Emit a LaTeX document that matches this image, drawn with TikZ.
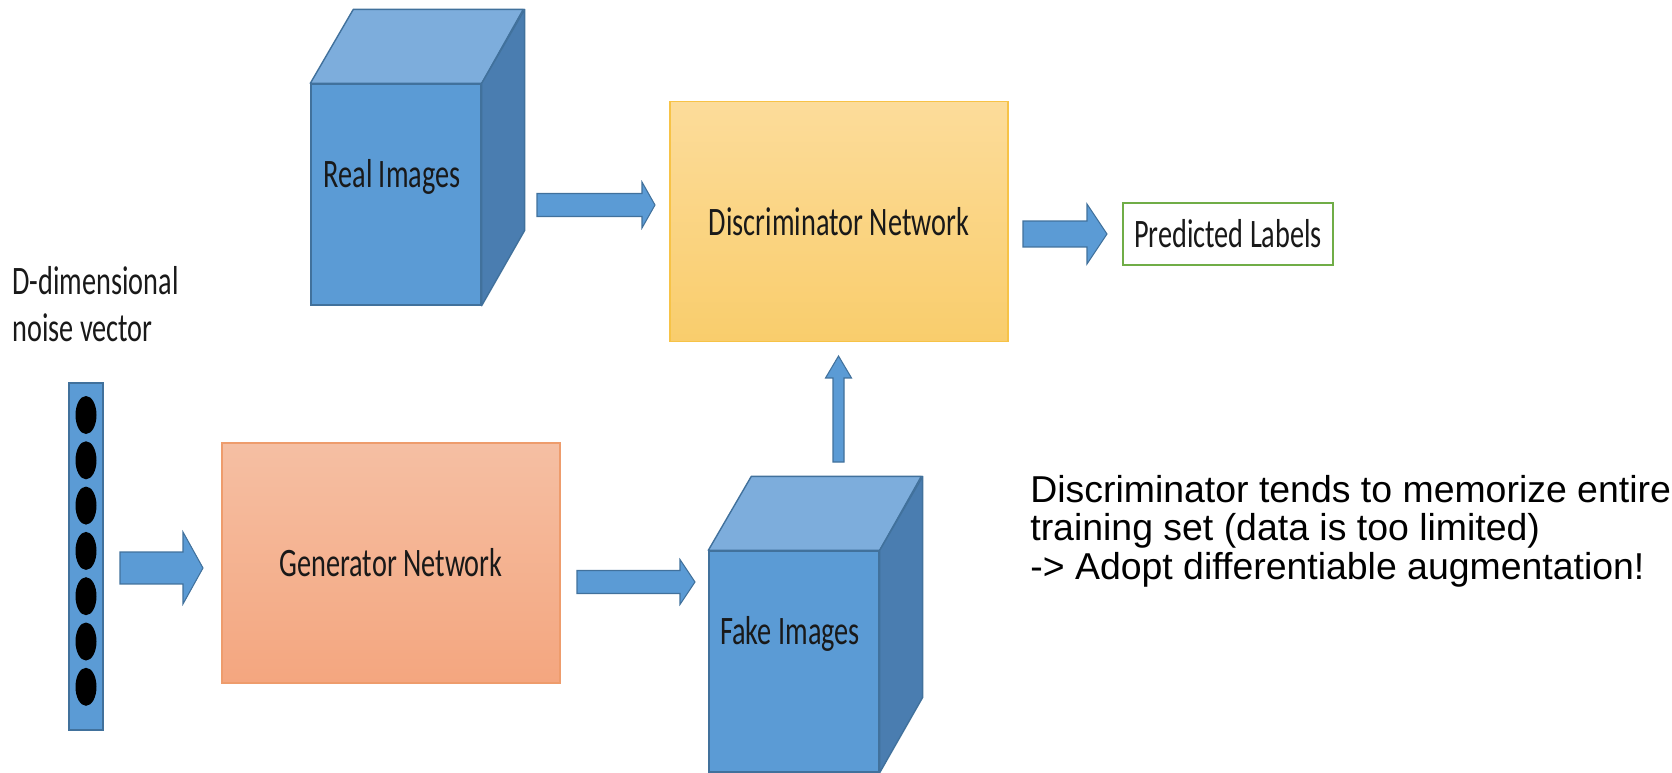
\documentclass[tikz,border=0pt]{standalone}
\usepackage{fontspec}
\usepackage{tikz}
\usetikzlibrary{calc}

\newfontfamily\calib[FakeStretch=0.7]{Carlito}
\newfontfamily\arialf{Liberation Sans}

\definecolor{cubefront}{HTML}{5B9BD5}
\definecolor{cubetopc}{HTML}{7DADDC}
\definecolor{cubeside}{HTML}{4A7DB0}
\definecolor{cubeedge}{HTML}{41719C}
\definecolor{disctop}{HTML}{FCDC9A}
\definecolor{discbot}{HTML}{F9CD6C}
\definecolor{discedge}{HTML}{F7C347}
\definecolor{gentop}{HTML}{F5BFA3}
\definecolor{genbot}{HTML}{F4A67F}
\definecolor{genedge}{HTML}{EE9C6C}
\definecolor{prededge}{HTML}{70AD47}

\newcommand{\pxu}{0.569pt}
% right-pointing block arrow: start, tip, shaft half, head half, head length (px)
\newcommand{\rarrow}[5]{%
  \filldraw[fatarrow] let \p1=(#1), \p2=(#2) in
    (\x1,\y1+#3*\pxu) -- (\x2-#5*\pxu,\y1+#3*\pxu) -- (\x2-#5*\pxu,\y1+#4*\pxu)
    -- (\x2,\y1) -- (\x2-#5*\pxu,\y1-#4*\pxu) -- (\x2-#5*\pxu,\y1-#3*\pxu)
    -- (\x1,\y1-#3*\pxu) -- cycle;}
% upward block arrow
\newcommand{\uarrow}[5]{%
  \filldraw[fatarrow] let \p1=(#1), \p2=(#2) in
    (\x1-#3*\pxu,\y1) -- (\x1-#3*\pxu,\y2-#5*\pxu) -- (\x1-#4*\pxu,\y2-#5*\pxu)
    -- (\x1,\y2) -- (\x1+#4*\pxu,\y2-#5*\pxu) -- (\x1+#3*\pxu,\y2-#5*\pxu)
    -- (\x1+#3*\pxu,\y1) -- cycle;}

\tikzset{
  fatarrow/.style={fill=cubefront, draw=cubeedge, line width=0.6pt, line join=miter},
  cubeface/.style={draw=cubeedge, fill=cubefront, line width=0.8pt,
    minimum width=3.4cm, minimum height=4.42cm, inner sep=0pt},
  cubetop/.style={draw=cubeedge, fill=cubetopc, line width=0.8pt, line join=round},
  cubeside/.style={draw=cubeedge, fill=cubeside, line width=0.8pt, line join=round},
  lbl/.style={font=\calib\fontsize{23}{26.7}\selectfont, text=black!90},
  netbox/.style={lbl, minimum width=6.76cm, minimum height=4.8cm, line width=0.7pt},
}

\begin{document}
\begin{tikzpicture}[x=0.02cm, y=-0.02cm]
  \useasboundingbox (0,0) rectangle (1672,773);

  \node[lbl, anchor=base west, align=left, inner sep=0pt] (noiselbl) at (12,341) {D-dimensional\\noise vector};

  \node[draw=cubeedge, fill=cubefront, line width=0.8pt, minimum width=0.68cm, minimum height=6.94cm, inner sep=0pt] (noise) at (86,556.5) {};
  \foreach \i in {0,...,6}
    \fill[black] (86,415+45.3*\i) ellipse [x radius=10.5, y radius=19];

  \node[netbox, draw=genedge, top color=gentop, bottom color=genbot] (gen) at (391,563) {Generator Network};

  \node[cubeface] (realF) at (396,194.5) {};
  \draw[cubetop] (realF.north west) -- ++(43,-74) -- ++(170,0) -- (realF.north east) -- cycle;
  \draw[cubeside] (realF.north east) -- ++(43,-74) -- ++(0,221) -- (realF.south east) -- cycle;
  \node[lbl, anchor=base] (realT) at (392,188) {Real Images};

  \node[cubeface] (fakeF) at (794,661.5) {};
  \draw[cubetop] (fakeF.north west) -- ++(43,-74) -- ++(170,0) -- (fakeF.north east) -- cycle;
  \draw[cubeside] (fakeF.north east) -- ++(43,-74) -- ++(0,221) -- (fakeF.south east) -- cycle;
  \node[lbl, anchor=base] (fakeT) at (790,644) {Fake Images};

  \node[netbox, draw=discedge, top color=disctop, bottom color=discbot] (disc) at (839,221.5) {Discriminator Network};

  \node[lbl, draw=prededge, line width=1.3pt, fill=white, minimum width=4.2cm, minimum height=1.24cm] (pred) at (1228,234) {Predicted Labels};

  \coordinate (n2g-s) at (120,568);
  \coordinate (n2g-e) at (203,568);
  \coordinate (g2f-s) at (577,582);
  \coordinate (g2f-e) at (695,582);
  \coordinate (r2d-s) at (537,205);
  \coordinate (r2d-e) at (655,205);
  \coordinate (d2p-s) at (1023,234);
  \coordinate (d2p-e) at (1107,234);
  \coordinate (f2d-s) at (838.5,462);
  \coordinate (f2d-e) at (838.5,356);

  \rarrow{n2g-s}{n2g-e}{16}{36}{20}
  \rarrow{g2f-s}{g2f-e}{11.5}{22.5}{15}
  \rarrow{r2d-s}{r2d-e}{11.5}{23}{13}
  \rarrow{d2p-s}{d2p-e}{13}{30}{20}
  \uarrow{f2d-s}{f2d-e}{5.5}{13}{22}

  \node[anchor=base west, align=left, inner sep=0pt, font=\arialf\fontsize{21.3}{21.7}\selectfont] (note) at (1030,579)
    {Discriminator tends to memorize entire\\training set (data is too limited)\\-> Adopt differentiable augmentation!};
\end{tikzpicture}
\end{document}
